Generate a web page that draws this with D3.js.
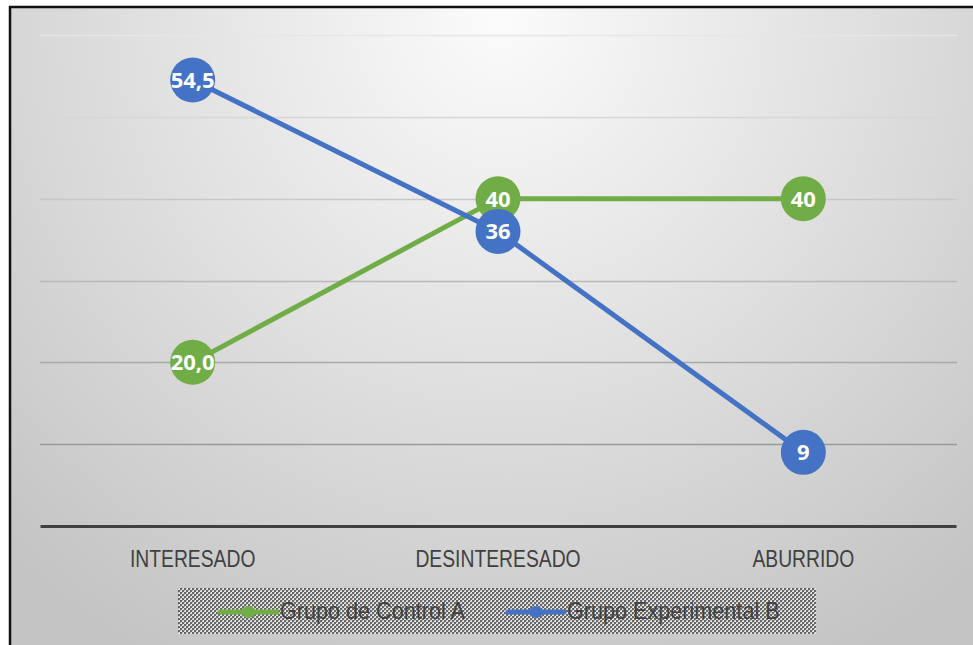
<!DOCTYPE html>
<html>
<head>
<meta charset="utf-8">
<script src="https://cdn.jsdelivr.net/npm/d3@7/dist/d3.min.js"></script>
<style>
html,body{margin:0;padding:0;background:#fff;}
svg{display:block;}
</style>
</head>
<body>
<svg id="chart" width="973" height="645"></svg>
<script>
const categories = ["INTERESADO", "DESINTERESADO", "ABURRIDO"];
const seriesNames = ["Grupo de Control A", "Grupo Experimental B"];
const grupoA = [20.0, 40, 40];
const grupoB = [54.5, 36, 9];
const labelsA = ["20,0", "40", "40"];
const labelsB = ["54,5", "36", "9"];
const yTicks = [0, 10, 20, 30, 40, 50, 60];
const colors = ["#70ad47", "#4472c4"];

const W = 973, H = 645;
const svg = d3.select("#chart");
const defs = svg.append("defs");

const bg = defs.append("radialGradient").attr("id", "bg")
  .attr("gradientUnits", "userSpaceOnUse")
  .attr("cx", 500).attr("cy", 20).attr("r", 720);
bg.append("stop").attr("offset", "0").attr("stop-color", "#fbfbfb");
bg.append("stop").attr("offset", "0.55").attr("stop-color", "#dddddd");
bg.append("stop").attr("offset", "1").attr("stop-color", "#c4c4c4");

const pat = defs.append("pattern").attr("id", "chk")
  .attr("patternUnits", "userSpaceOnUse").attr("width", 4).attr("height", 4);
pat.append("rect").attr("width", 4).attr("height", 4).attr("fill", "#e6e6e6");
pat.append("rect").attr("x", 0).attr("y", 0).attr("width", 2).attr("height", 2).attr("fill", "#666");
pat.append("rect").attr("x", 2).attr("y", 2).attr("width", 2).attr("height", 2).attr("fill", "#666");
pat.append("rect").attr("x", 2).attr("y", 0).attr("width", 1).attr("height", 1).attr("fill", "#aaa");
pat.append("rect").attr("x", 0).attr("y", 2).attr("width", 1).attr("height", 1).attr("fill", "#aaa");

// background + frame
svg.append("rect").attr("x", 10).attr("y", 7).attr("width", W).attr("height", H)
  .attr("fill", "url(#bg)").attr("stroke", "#111").attr("stroke-width", 2.5);

const x = d3.scaleBand().domain(categories).range([40, 956]);
const y = d3.scaleLinear().domain([0, 60]).range([526, 35]);
const cx = d => x(d) + x.bandwidth() / 2;

// gridlines
const gridColor = d3.scaleLinear().domain([10, 60]).range(["#9a9a9a", "#e6e6e6"]);
svg.append("g").selectAll("line").data(yTicks.filter(t => t > 0)).join("line")
  .attr("x1", 40).attr("x2", 957)
  .attr("y1", d => Math.round(y(d)) + 0.5).attr("y2", d => Math.round(y(d)) + 0.5)
  .attr("stroke", d => gridColor(d)).attr("stroke-width", 1.5);

// baseline axis
const xAxis = svg.append("g").attr("transform", `translate(0,${y(0)})`)
  .call(d3.axisBottom(x).tickSize(0));
xAxis.select(".domain").attr("stroke", "#404040").attr("stroke-width", 3);
xAxis.selectAll("text")
  .attr("y", 41).attr("dy", null)
  .attr("transform", "scale(0.84,1)")
  .attr("font-family", "'Liberation Sans', Arial, sans-serif")
  .attr("font-size", 23).attr("fill", "#404040");

const data = [grupoA, grupoB];
const labels = [labelsA, labelsB];
const line = d3.line().x((d, i) => cx(categories[i])).y(d => y(d));

data.forEach((vals, s) => {
  const g = svg.append("g");
  g.append("path").datum(vals).attr("d", line)
    .attr("fill", "none").attr("stroke", colors[s]).attr("stroke-width", 5)
    .attr("stroke-linejoin", "round");
  g.selectAll("circle").data(vals).join("circle")
    .attr("cx", (d, i) => cx(categories[i])).attr("cy", d => y(d))
    .attr("r", 22.5).attr("fill", colors[s]);
});

data.forEach((vals, s) => {
  svg.append("g").selectAll("text").data(vals).join("text")
    .attr("x", (d, i) => cx(categories[i])).attr("y", d => y(d))
    .attr("dy", "0.36em").attr("text-anchor", "middle")
    .attr("font-family", "'Open Sans', sans-serif").attr("font-weight", 700)
    .attr("font-size", 22).attr("fill", "#fff")
    .text((d, i) => labels[s][i]);
});

// legend
const lg = svg.append("g");
lg.append("rect").attr("x", 178).attr("y", 588).attr("width", 638).attr("height", 46)
  .attr("fill", "url(#chk)");
const legendItems = [
  {x0: 220, x1: 277, tx: 280},
  {x0: 508, x1: 564, tx: 567}
];
seriesNames.forEach((name, s) => {
  const it = legendItems[s];
  lg.append("line").attr("x1", it.x0).attr("x2", it.x1).attr("y1", 612).attr("y2", 612)
    .attr("stroke", colors[s]).attr("stroke-width", 5).attr("stroke-linecap", "round");
  lg.append("ellipse").attr("cx", (it.x0 + it.x1) / 2).attr("cy", 612).attr("rx", 7).attr("ry", 6).attr("fill", colors[s]);
  lg.append("text").attr("transform", `translate(${it.tx},619) scale(0.94,1)`)
    .attr("font-family", "'Liberation Sans', Arial, sans-serif")
    .attr("font-size", 23).attr("fill", "#404040").text(name);
});
</script>
</body>
</html>
